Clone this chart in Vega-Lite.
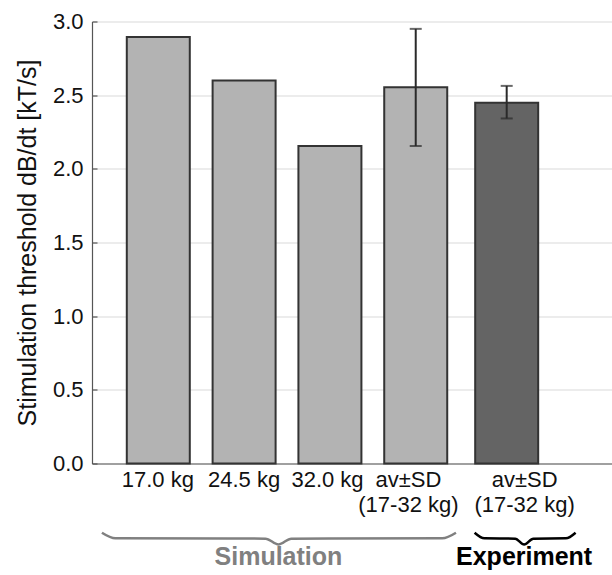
{
  "$schema": "https://vega.github.io/schema/vega-lite/v6.json",
  "width": 520,
  "height": 442,
  "autosize": {"type": "none"},
  "padding": {"left": 92, "top": 21.5, "right": 0, "bottom": 111.5},
  "config": {
    "view": {"stroke": null},
    "font": "Liberation Sans",
    "axis": {"labelFont": "Liberation Sans", "titleFont": "Liberation Sans"}
  },
  "datasets": {
    "bars": [
      {"category": "17.0 kg", "pos": 1, "value": 2.895, "group": "Simulation"},
      {"category": "24.5 kg", "pos": 2, "value": 2.6, "group": "Simulation"},
      {"category": "32.0 kg", "pos": 3, "value": 2.155, "group": "Simulation"},
      {"category": "av±SD (17-32 kg) sim", "pos": 4, "value": 2.553, "lo": 2.155, "hi": 2.95, "group": "Simulation"},
      {"category": "av±SD (17-32 kg) exp", "pos": 5.06, "value": 2.449, "lo": 2.342, "hi": 2.563, "group": "Experiment"}
    ],
    "braces": [
      {"group": "Simulation", "order": 1, "x": 0.343, "y": -0.47},
      {"group": "Simulation", "order": 2, "x": 0.5, "y": -0.508},
      {"group": "Simulation", "order": 3, "x": 2.25, "y": -0.51},
      {"group": "Simulation", "order": 4, "x": 2.4, "y": -0.55},
      {"group": "Simulation", "order": 5, "x": 2.55, "y": -0.51},
      {"group": "Simulation", "order": 6, "x": 4.31, "y": -0.508},
      {"group": "Simulation", "order": 7, "x": 4.469, "y": -0.47},
      {"group": "Experiment", "order": 1, "x": 4.686, "y": -0.47},
      {"group": "Experiment", "order": 2, "x": 4.8, "y": -0.508},
      {"group": "Experiment", "order": 3, "x": 5.16, "y": -0.51},
      {"group": "Experiment", "order": 4, "x": 5.263, "y": -0.55},
      {"group": "Experiment", "order": 5, "x": 5.37, "y": -0.51},
      {"group": "Experiment", "order": 6, "x": 5.75, "y": -0.508},
      {"group": "Experiment", "order": 7, "x": 5.863, "y": -0.47}
    ],
    "groups": [
      {"group": "Simulation", "x": 2.4, "y": -0.635},
      {"group": "Experiment", "x": 5.263, "y": -0.635}
    ]
  },
  "layer": [
    {
      "data": {"name": "bars"},
      "mark": {"type": "bar", "width": 63, "stroke": "#333333", "strokeWidth": 2},
      "encoding": {
        "x": {
          "field": "pos", "type": "quantitative",
          "scale": {"domain": [0.2857, 6.229], "nice": false, "zero": false},
          "axis": {
            "title": null,
            "values": [0.989, 1.994, 2.966, 3.909, 5.263],
            "labelExpr": "datum.value < 1.5 ? '17.0 kg' : datum.value < 2.5 ? '24.5 kg' : datum.value < 3.5 ? '32.0 kg' : ['av±SD', '(17-32 kg)']",
            "ticks": false,
            "grid": false,
            "domainColor": "#555555",
            "domainWidth": 1.2,
            "labelFontSize": 22,
            "labelColor": "#111111",
            "labelPadding": 6,
            "labelLineHeight": 25,
            "labelFlush": false,
            "labelOverlap": false
          }
        },
        "y": {
          "field": "value", "type": "quantitative",
          "scale": {"domain": [0, 3], "nice": false},
          "axis": {
            "title": "Stimulation threshold dB/dt [kT/s]",
            "titleFontSize": 25,
            "titleFontWeight": "normal",
            "titleColor": "#111111",
            "titlePadding": 12,
            "values": [0, 0.5, 1, 1.5, 2, 2.5, 3],
            "format": ".1f",
            "labelFontSize": 22,
            "labelColor": "#111111",
            "labelPadding": 14,
            "tickSize": -5,
            "tickColor": "#555555",
            "tickWidth": 1.2,
            "domainColor": "#555555",
            "domainWidth": 1.2,
            "gridColor": "#e6e6e6",
            "gridWidth": 1.5
          }
        },
        "color": {
          "field": "group", "type": "nominal",
          "scale": {"domain": ["Simulation", "Experiment"], "range": ["#b3b3b3", "#646464"]},
          "legend": null
        }
      }
    },
    {
      "data": {"name": "bars"},
      "transform": [{"filter": "isValid(datum.lo)"}],
      "mark": {"type": "rule", "color": "#2a2a2a", "strokeWidth": 2},
      "encoding": {
        "x": {"field": "pos", "type": "quantitative"},
        "y": {"field": "lo", "type": "quantitative"},
        "y2": {"field": "hi"}
      }
    },
    {
      "data": {"name": "bars"},
      "transform": [{"filter": "isValid(datum.lo)"}],
      "mark": {"type": "tick", "color": "#2a2a2a", "orient": "horizontal", "size": 12, "thickness": 2},
      "encoding": {
        "x": {"field": "pos", "type": "quantitative"},
        "y": {"field": "lo", "type": "quantitative"}
      }
    },
    {
      "data": {"name": "bars"},
      "transform": [{"filter": "isValid(datum.hi)"}],
      "mark": {"type": "tick", "color": "#2a2a2a", "orient": "horizontal", "size": 12, "thickness": 2},
      "encoding": {
        "x": {"field": "pos", "type": "quantitative"},
        "y": {"field": "hi", "type": "quantitative"}
      }
    },
    {
      "data": {"name": "braces"},
      "mark": {"type": "line", "interpolate": "monotone", "strokeWidth": 2.5, "clip": false},
      "encoding": {
        "x": {"field": "x", "type": "quantitative"},
        "y": {"field": "y", "type": "quantitative"},
        "order": {"field": "order"},
        "detail": {"field": "group"},
        "color": {
          "field": "group", "type": "nominal",
          "scale": {"domain": ["Simulation", "Experiment"], "range": ["#808080", "#000000"]},
          "legend": null
        }
      }
    },
    {
      "data": {"name": "groups"},
      "mark": {"type": "text", "fontSize": 25, "fontWeight": "bold", "baseline": "middle", "align": "center", "clip": false},
      "encoding": {
        "x": {"field": "x", "type": "quantitative"},
        "y": {"field": "y", "type": "quantitative"},
        "text": {"field": "group"},
        "color": {
          "field": "group", "type": "nominal",
          "scale": {"domain": ["Simulation", "Experiment"], "range": ["#808080", "#000000"]},
          "legend": null
        }
      }
    }
  ],
  "resolve": {"scale": {"color": "independent"}}
}
